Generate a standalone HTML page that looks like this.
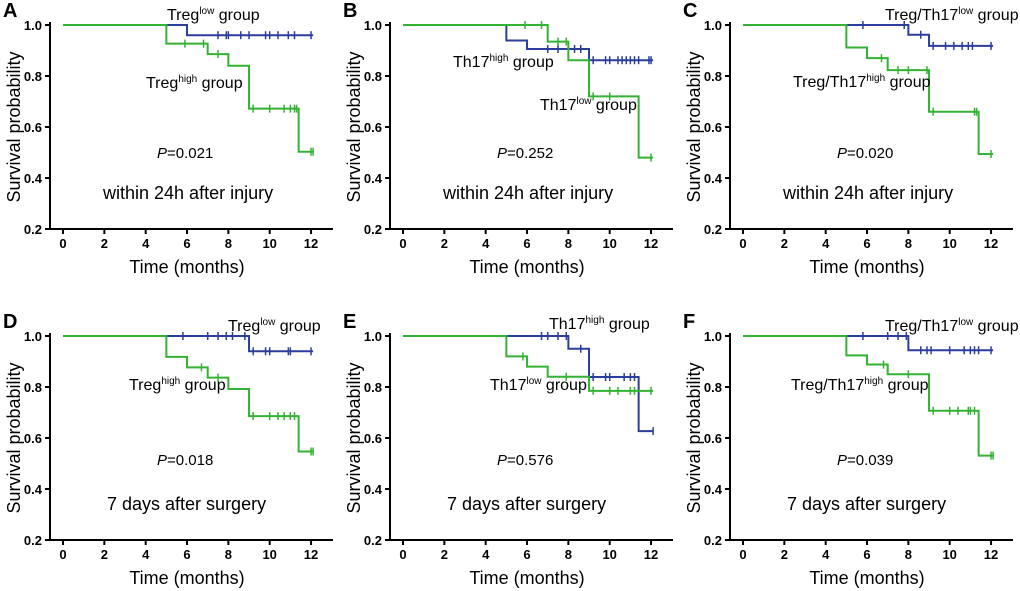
<!DOCTYPE html>
<html><head><meta charset="utf-8"><style>
body{margin:0;background:#fff;}
svg{display:block;font-family:"Liberation Sans",Arial,sans-serif;}
</style></head><body>
<svg id="fig" width="1020" height="591" viewBox="0 0 1020 591"></svg>
<script>
// ---- data (time in months, survival probability) ----
const xTicks=[0,2,4,6,8,10,12];
const yTicks=[0.2,0.4,0.6,0.8,1.0];
const panelLetters=["A","B","C","D","E","F"];
const pValues=["0.021","0.252","0.020","0.018","0.576","0.039"];
const conditions=["within 24h after injury","within 24h after injury","within 24h after injury","7 days after surgery","7 days after surgery","7 days after surgery"];
// step curves: event times and survival after each step
const aBlueT=[6], aBlueS=[0.960], aBlueC=[7.5,7.9,8,8.6,9,9.8,10,10.4,10.9,11.2,12];
const aGreenT=[5,7,8,9,11.4], aGreenS=[0.927,0.886,0.840,0.672,0.503], aGreenC=[5.9,6.8,7.5,9.2,10,10.7,11,11.2,11.3,12,12.1];
const bBlueT=[5,6,9], bBlueS=[0.939,0.906,0.862], bBlueC=[7,7.5,8.3,8.6,9,9.2,9.8,10,10.4,10.6,10.8,11,11.2,11.4,11.9,12];
const bGreenT=[7,8,9,11.4], bGreenS=[0.935,0.862,0.720,0.480], bGreenC=[5.9,6.7,7.5,7.9,9.2,10,12];
const cBlueT=[8,9], cBlueS=[0.962,0.918], cBlueC=[5.8,7.8,8.6,9.2,9.8,10.2,10.6,10.9,11.1,12];
const cGreenT=[5,6,7,9,11.4], cGreenS=[0.912,0.870,0.823,0.660,0.494], cGreenC=[6.7,7.5,8,8.9,9.2,11.2,11.3,12];
const dBlueT=[9], dBlueS=[0.940], dBlueC=[5.8,7,7.5,7.9,8.2,8.8,9.2,9.8,10,10.9,11,12];
const dGreenT=[5,6,7,8,9,11.4], dGreenS=[0.918,0.877,0.837,0.792,0.686,0.547], dGreenC=[6.7,7.5,9.2,10,10.4,10.7,11,11.2,12,12.1];
const eBlueT=[8,9,11.4], eBlueS=[0.950,0.839,0.627], eBlueC=[6.7,7,7.5,7.9,8.6,9.2,9.8,10,10.7,11,11.2,12.1];
const eGreenT=[5,6,7,9], eGreenS=[0.920,0.880,0.840,0.785], eGreenC=[5.8,7.9,9.2,10,10.4,11,11.2,12];
const fBlueT=[8], fBlueS=[0.944], fBlueC=[5.8,7,7.5,7.9,8.6,8.9,9.1,10,10.7,11,11.2,11.4,12];
const fGreenT=[5,6,7,9,11.4], fGreenS=[0.924,0.888,0.850,0.707,0.531], fGreenC=[6.8,8,9.2,10,10.4,10.9,11,11.2,12,12.1];
const curveEnd=[12.1,12.1,12.1,12.1,12.1,12.1];

const NS="http://www.w3.org/2000/svg";
const svg=document.getElementById('fig');
const BLUE="#2b3d9d", GREEN="#33b233";
function mk(tag,attrs,parent){const e=document.createElementNS(NS,tag);for(const k in attrs)e.setAttribute(k,attrs[k]);(parent||svg).appendChild(e);return e;}

const panels=[
 {ox:0,py:25,blue:[aBlueT,aBlueS,aBlueC],green:[aGreenT,aGreenS,aGreenC],
  labels:[["Treg","low"," group",167,-5],["Treg","high"," group",146,63]]},
 {ox:340,py:25,blue:[bBlueT,bBlueS,bBlueC],green:[bGreenT,bGreenS,bGreenC],
  labels:[["Th17","high"," group",113,42],["Th17","low"," group",200,85]]},
 {ox:680,py:25,blue:[cBlueT,cBlueS,cBlueC],green:[cGreenT,cGreenS,cGreenC],
  labels:[["Treg/Th17","low"," group",205,-5],["Treg/Th17","high"," group",113,62]]},
 {ox:0,py:336,blue:[dBlueT,dBlueS,dBlueC],green:[dGreenT,dGreenS,dGreenC],
  labels:[["Treg","low"," group",228,-5],["Treg","high"," group",129,54]]},
 {ox:340,py:336,blue:[eBlueT,eBlueS,eBlueC],green:[eGreenT,eGreenS,eGreenC],
  labels:[["Th17","high"," group",209,-7],["Th17","low"," group",150,54]]},
 {ox:680,py:336,blue:[fBlueT,fBlueS,fBlueC],green:[fGreenT,fGreenS,fGreenC],
  labels:[["Treg/Th17","low"," group",205,-5],["Treg/Th17","high"," group",111,54]]}
];

panels.forEach((p,i)=>{
  const g=mk('g',{});
  
  
  const xS=t=>p.ox+63+t*20.67;
  const yS=v=>p.py+(1-v)*255;
  const axX=p.ox+50, axY=p.py+204;
  const L=mk('text',{x:p.ox+3,y:p.py-8,'font-size':20,'font-weight':'bold',fill:'#000'},g);
  L.textContent=panelLetters[i];
  
  
  const ax=mk('path',{d:`M${axX},${yS(1.0)-3}V${axY}H${p.ox+333}`,stroke:'#000','stroke-width':2,fill:'none'},g);
  
  
  yTicks.forEach(v=>{
    mk('line',{x1:axX-5,x2:axX,y1:yS(v),y2:yS(v),stroke:'#000','stroke-width':2},g);
    const t=mk('text',{x:axX-8,y:yS(v)+5,'font-size':13,'font-weight':'bold','text-anchor':'end'},g);
    t.textContent=v.toFixed(1);
    
    
  });
  xTicks.forEach(v=>{
    mk('line',{x1:xS(v),x2:xS(v),y1:axY,y2:axY+5,stroke:'#000','stroke-width':2},g);
    const t=mk('text',{x:xS(v),y:axY+19,'font-size':13,'font-weight':'bold','text-anchor':'middle'},g);
    t.textContent=v;
    
    
  });
  const xt=mk('text',{x:p.ox+187,y:axY+44,'font-size':18,'text-anchor':'middle'},g);
  xt.textContent="Time (months)";
  
  
  const yt=mk('text',{x:0,y:0,'font-size':18,'text-anchor':'middle',transform:`translate(${p.ox+20},${p.py+102}) rotate(-90)`},g);
  yt.textContent="Survival probability";
  
  
  [[p.blue,BLUE,'blue'],[p.green,GREEN,'green']].forEach(([c,col,nm])=>{
    const [T,S,C]=c;
    let d=`M${xS(0)},${yS(1)}`;
    T.forEach((t,k)=>{d+=`H${xS(t)}V${yS(S[k])}`;});
    d+=`H${xS(curveEnd[i])}`;
    const path=mk('path',{d:d,stroke:col,'stroke-width':2,fill:'none'},g);
    
    
    C.forEach(ct=>{
      let v=1;T.forEach((t,k)=>{if(t<=ct)v=S[k];});
      const m=mk('line',{x1:xS(ct),x2:xS(ct),y1:yS(v)-4,y2:yS(v)+4,stroke:col,'stroke-width':1.5},g);
      
      
    });
  });
  p.labels.forEach(l=>{
    const t=mk('text',{x:p.ox+l[3],y:p.py+l[4],'font-size':16},g);
    
    
    const a=mk('tspan',{},t);a.textContent=l[0];
    const b=mk('tspan',{'font-size':10,dy:-6},t);b.textContent=l[1];
    const c=mk('tspan',{dy:6},t);c.textContent=l[2];
  });
  const pt=mk('text',{x:p.ox+157,y:p.py+(i<3?133:129),'font-size':15},g);
  
  
  const pi=mk('tspan',{'font-style':'italic'},pt);pi.textContent="P";
  const pv=mk('tspan',{},pt);pv.textContent="="+pValues[i];
  const ct=mk('text',{x:p.ox+(i<3?103:107),y:p.py+174,'font-size':18},g);
  ct.textContent=conditions[i];
  
  
});
</script>
</body></html>
